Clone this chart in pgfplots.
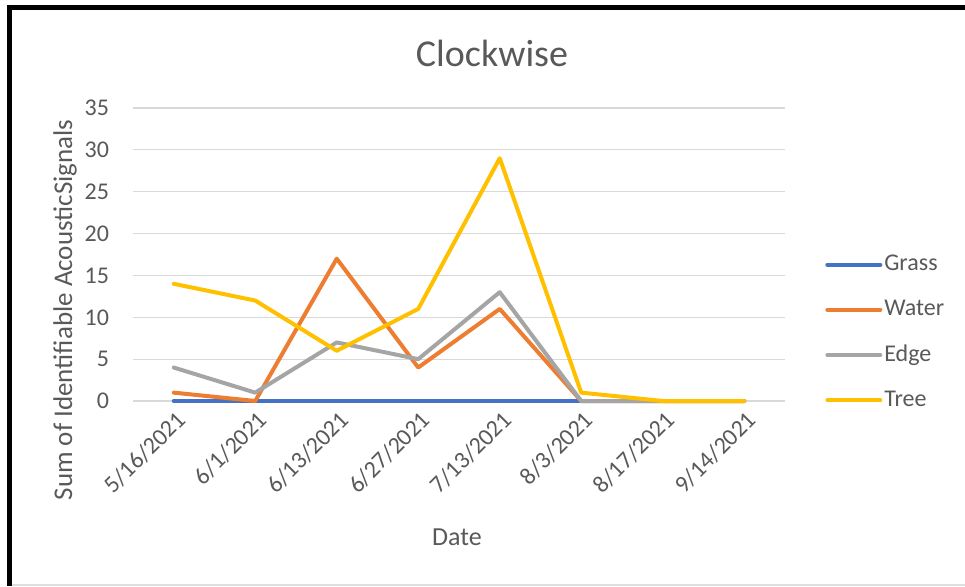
\documentclass[border=0pt]{standalone}
\usepackage{fontspec}
\setmainfont{Carlito}
\usepackage{pgfplots}
\pgfplotsset{compat=1.18}

\definecolor{grassc}{HTML}{4472C4}
\definecolor{waterc}{HTML}{ED7D31}
\definecolor{edgec}{HTML}{A5A5A5}
\definecolor{treec}{HTML}{FFC000}
\definecolor{gridc}{HTML}{D9D9D9}
\definecolor{labc}{HTML}{595959}

\newcommand{\ticksize}{\fontsize{12}{14}\selectfont}
\newcommand{\labsize}{\fontsize{13}{15}\selectfont}

\begin{document}
\begin{tikzpicture}
% page extent
\path (0,0) rectangle (482.5pt,293pt);
% frame
\fill[gray!25] (6pt,0pt) rectangle (482.5pt,1pt);
\fill[black] (3.5pt,0pt) rectangle (6pt,290.5pt);
\fill[black] (3.5pt,288pt) rectangle (482.5pt,290.5pt);

\begin{axis}[
  at={(66.5pt,92.5pt)}, anchor=south west,
  scale only axis, width=326pt, height=146.5pt,
  xmin=-0.5, xmax=7.5, ymin=0, ymax=35,
  xtick={0,...,7},
  xticklabels={5/16/2021,6/1/2021,6/13/2021,6/27/2021,7/13/2021,8/3/2021,8/17/2021,9/14/2021},
  ytick={0,5,...,35},
  axis line style={draw=none},
  ymajorgrids, grid style={draw=gridc, line width=0.6pt},
  major tick length=0pt,
  tick label style={font=\ticksize, text=labc},
  /pgf/number format/assume math mode=true,
  xticklabel style={rotate=45, anchor=east, xshift=1pt, yshift=-8pt},
  yticklabel style={xshift=-8.5pt},
  clip=false,
  every axis plot/.append style={line width=2pt, line join=round, line cap=round, mark=none},
  legend cell align=left,
  legend image code/.code={\draw[#1] (0pt,0pt) -- (26.5pt,0pt);},
  legend style={at={(1.0613,0.2338)}, anchor=west, draw=none, fill=none,
    inner sep=0pt, row sep=11.2pt, font=\ticksize, text=labc,
    nodes={inner sep=1pt}},
]
\addplot[grassc] coordinates {(0,0) (1,0) (2,0) (3,0) (4,0) (5,0) (6,0) (7,0)};
\addlegendentry{Grass}
\addplot[waterc] coordinates {(0,1) (1,0) (2,17) (3,4) (4,11) (5,0) (6,0) (7,0)};
\addlegendentry{Water}
\addplot[edgec] coordinates {(0,4) (1,1) (2,7) (3,5) (4,13) (5,0) (6,0) (7,0)};
\addlegendentry{Edge}
\addplot[treec] coordinates {(0,14) (1,12) (2,6) (3,11) (4,29) (5,1) (6,0) (7,0)};
\addlegendentry{Tree}
\end{axis}

% titles
\node[text=labc, font=\fontsize{19}{22}\selectfont] at (246pt,266.5pt) {Clockwise};
\node[text=labc, font=\labsize] at (228.5pt,24.5pt) {Date};
\node[text=labc, font=\fontsize{13.5}{15}\selectfont, rotate=90] at (32.5pt,138pt) {Sum of Identifiable AcousticSignals};
\end{tikzpicture}
\end{document}
